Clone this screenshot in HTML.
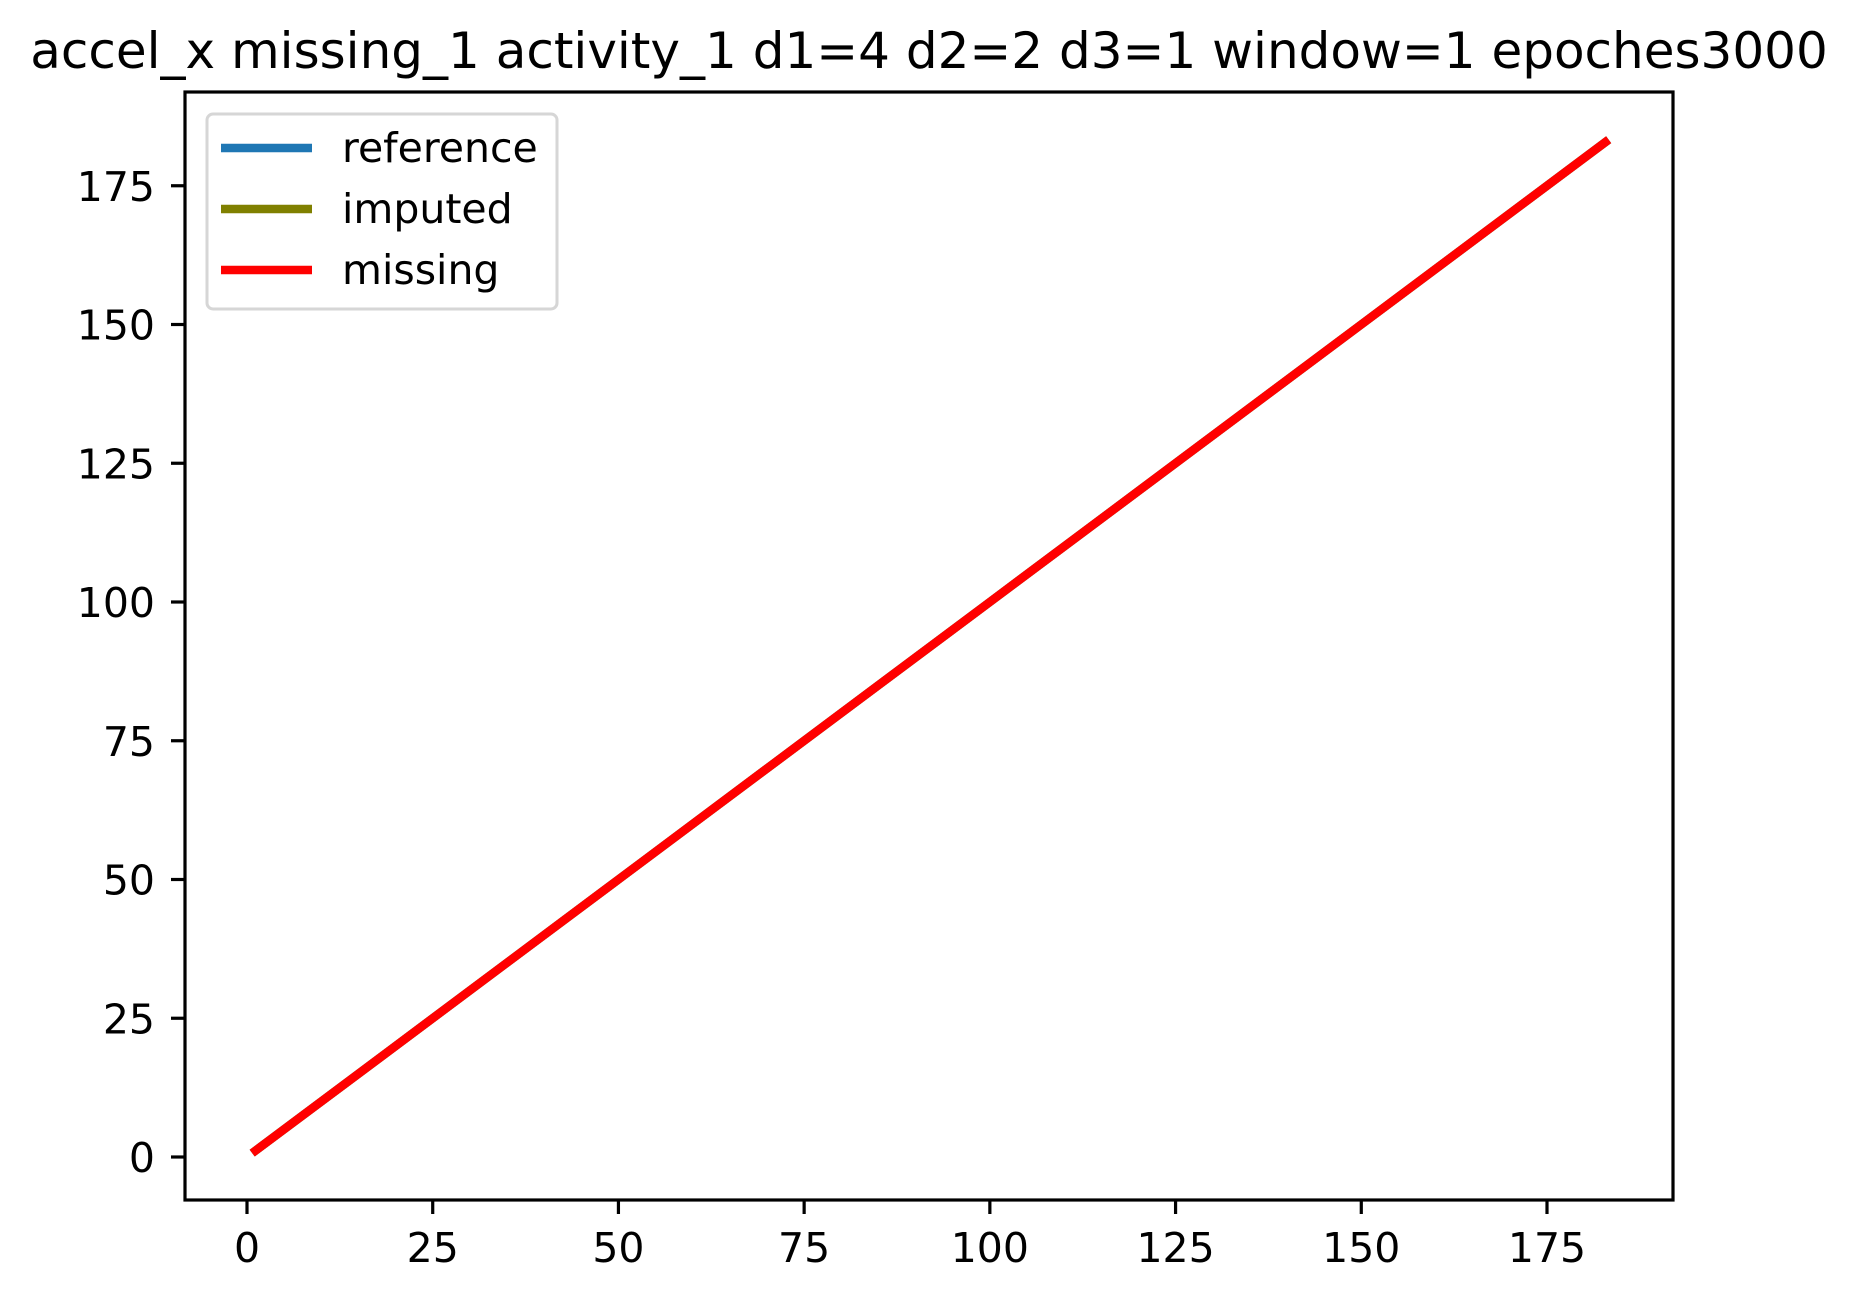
<!DOCTYPE html>
<html><head><meta charset="utf-8"><style>
html,body{margin:0;padding:0;background:#fff;}
svg{display:block;font-family:"DejaVu Sans","Liberation Sans",sans-serif;}
</style></head><body>
<svg id="chart" width="1858" height="1300" viewBox="0 0 1858 1300">
<text x="929" y="68" font-size="50" text-anchor="middle">accel_x missing_1 activity_1 d1=4 d2=2 d3=1 window=1 epoches3000</text>
<g id="plot"></g>
<g id="xaxis"></g>
<g id="yaxis"></g>
<rect x="185" y="92" width="1488" height="1108" fill="none" stroke="#000" stroke-width="3.2"/>
<g>
<rect x="207" y="114" width="350" height="195" rx="6" fill="#fff" fill-opacity="0.8" stroke="#d6d6d6" stroke-width="3"/>
<g><line x1="221" y1="148" x2="312" y2="148" stroke="#1f77b4" stroke-width="8.5"/><text x="342" y="162" font-size="41">reference</text></g>
<g><line x1="221" y1="209" x2="312" y2="209" stroke="#808000" stroke-width="8.5"/><text x="342" y="223" font-size="41">imputed</text></g>
<g><line x1="221" y1="270" x2="312" y2="270" stroke="#ff0000" stroke-width="8.5"/><text x="342" y="284" font-size="41">missing</text></g>
</g>
</svg>
<script>
const xTicks = [0, 25, 50, 75, 100, 125, 150, 175];
const yTicks = [0, 25, 50, 75, 100, 125, 150, 175];
const xValues = [0.7, 50, 100, 150, 183.3];
const referenceValues = [0.7, 50, 100, 150, 183.3];
const imputedValues = [0.7, 50, 100, 150, 183.3];
const missingValues = [0.7, 50, 100, 150, 183.3];

const NS = 'http://www.w3.org/2000/svg';
function sx(v){ return 247 + v * (1547 - 247) / 175; }
function sy(v){ return 1157 - v * (1157 - 602) / 100; }
function mk(tag, attrs, parent){
  const e = document.createElementNS(NS, tag);
  for (const k in attrs) e.setAttribute(k, attrs[k]);
  parent.appendChild(e);
  return e;
}
const plot = document.getElementById('plot');
const series = [
  {name:'reference-line', vals:referenceValues, color:'#1f77b4'},
  {name:'imputed-line', vals:imputedValues, color:'#808000'},
  {name:'missing-line', vals:missingValues, color:'#ff0000'}
];
series.forEach(s => {
  const pts = xValues.map((x, i) => sx(x) + ',' + sy(s.vals[i])).join(' ');
  const pl = mk('polyline', {points: pts, fill:'none', stroke:s.color, 'stroke-width':8.5, 'stroke-linejoin':'round'}, plot);
  
  
});
const xa = document.getElementById('xaxis');
xTicks.forEach(t => {
  const g = mk('g', {}, xa);
  
  
  mk('line', {x1:sx(t), x2:sx(t), y1:1200, y2:1214, stroke:'#000', 'stroke-width':3.2}, g);
  const tx = mk('text', {x:sx(t), y:1262, 'font-size':41, 'text-anchor':'middle'}, g);
  tx.textContent = t;
});
const ya = document.getElementById('yaxis');
yTicks.forEach(t => {
  const g = mk('g', {}, ya);
  
  
  mk('line', {x1:171, x2:185, y1:sy(t), y2:sy(t), stroke:'#000', 'stroke-width':3.2}, g);
  const tx = mk('text', {x:155, y:sy(t) + 15, 'font-size':41, 'text-anchor':'end'}, g);
  tx.textContent = t;
});
</script>
</body></html>
